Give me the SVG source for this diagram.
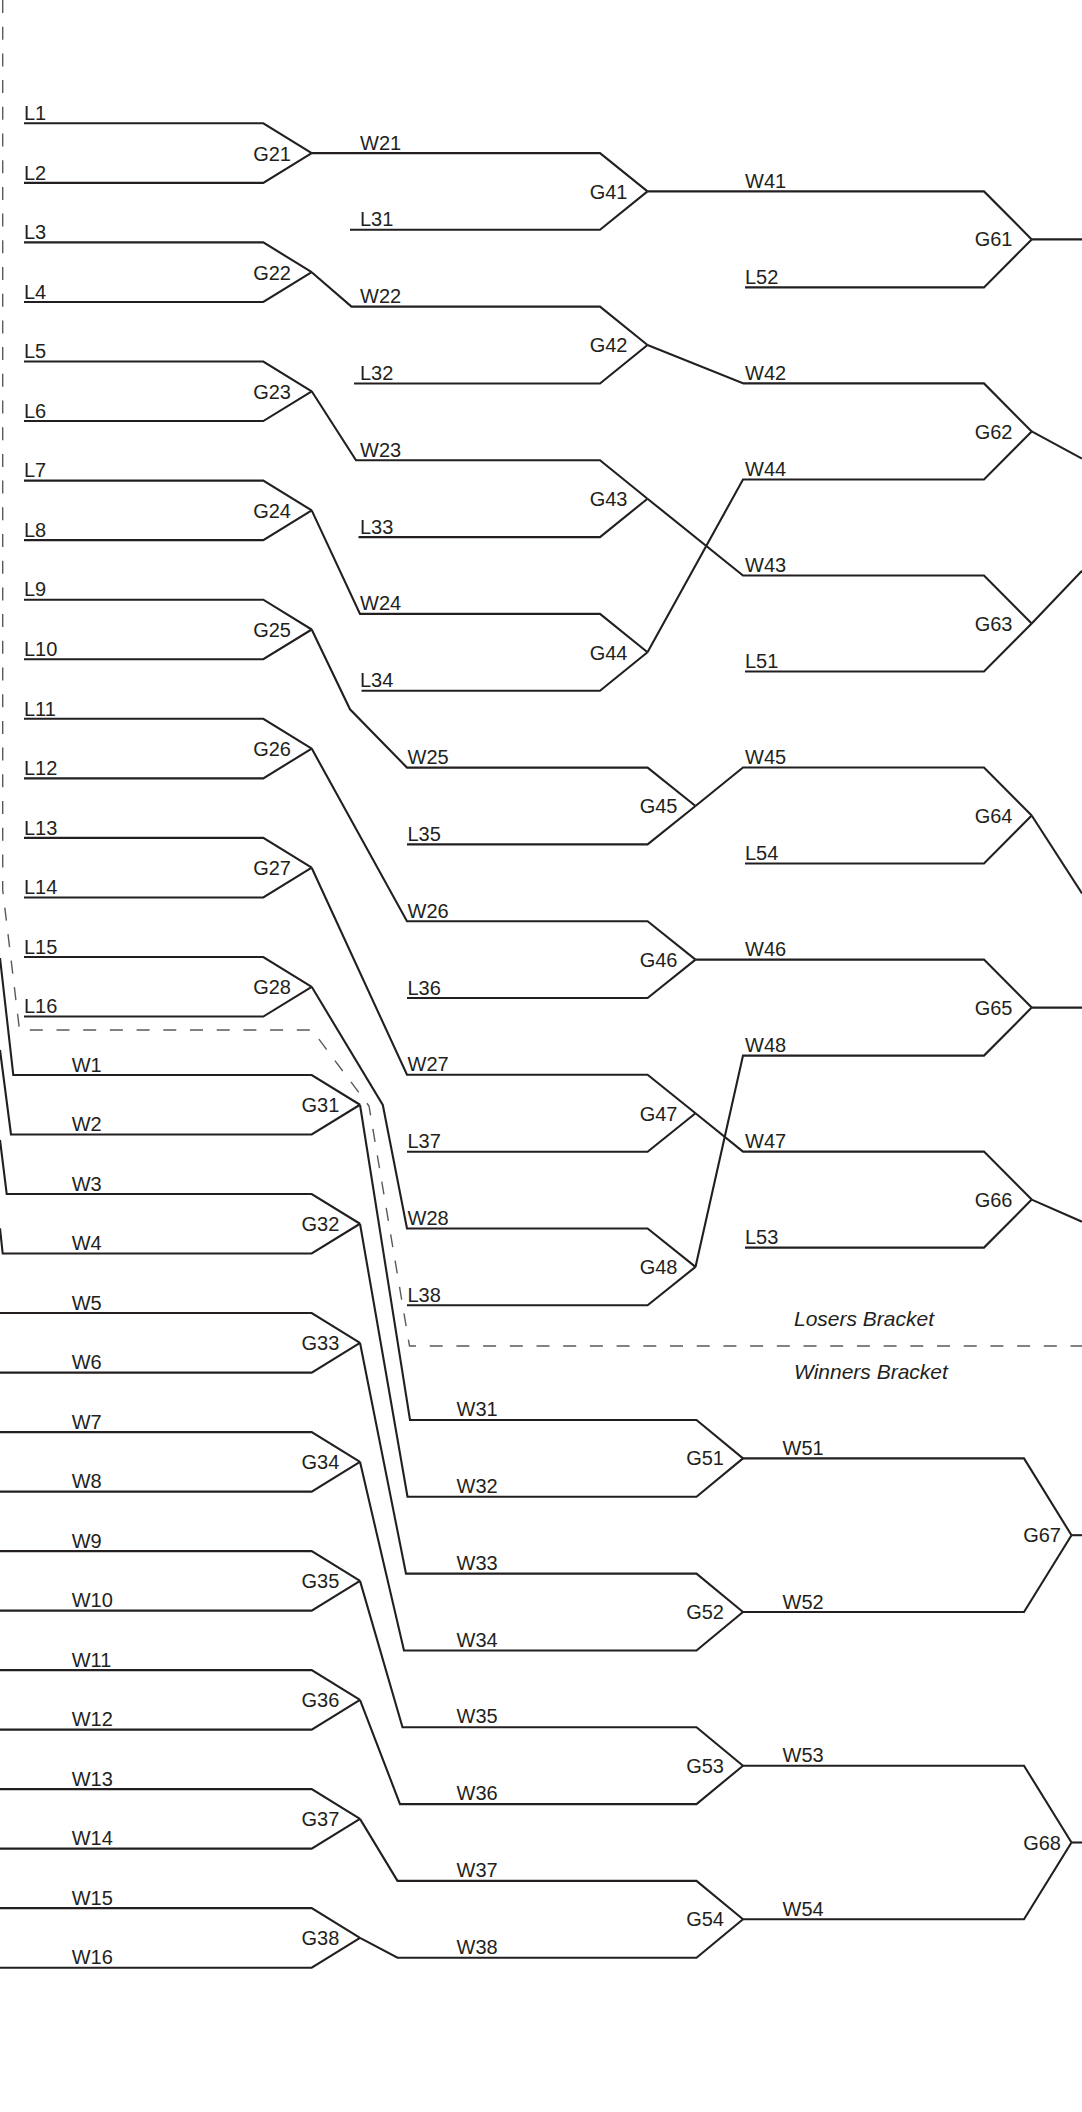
<svg xmlns="http://www.w3.org/2000/svg" width="1082" height="2112" viewBox="0 0 1082 2112">
<style>
.ln{fill:none;stroke:#231f20;stroke-width:2.1;stroke-linejoin:miter}
.dash{fill:none;stroke:#58595b;stroke-width:1.4;stroke-dasharray:13 13.7}
text{font-family:"Liberation Sans",Arial,sans-serif;font-size:20px;fill:#231f20}
.g{text-anchor:end}
.it{font-style:italic;font-size:21px}
</style>
<rect width="1082" height="2112" fill="#ffffff"/>
<path class="dash" d="M2.7 0 V890 L19.5 1030 H312 L369 1106 L409.5 1346 H1082"/>
<text class="it" x="794" y="1326">Losers Bracket</text>
<text class="it" x="794" y="1379.3">Winners Bracket</text>
<g id="connectors">
<path class="ln" d="M24 123.3 H263.3 L311.7 153.1"/>
<path class="ln" d="M24 182.85 H263.3 L311.7 153.1"/>
<path class="ln" d="M24 242.4 H263.3 L311.7 272.2"/>
<path class="ln" d="M24 301.95 H263.3 L311.7 272.2"/>
<path class="ln" d="M24 361.5 H263.3 L311.7 391.3"/>
<path class="ln" d="M24 421.05 H263.3 L311.7 391.3"/>
<path class="ln" d="M24 480.6 H263.3 L311.7 510.4"/>
<path class="ln" d="M24 540.15 H263.3 L311.7 510.4"/>
<path class="ln" d="M24 599.7 H263.3 L311.7 629.5"/>
<path class="ln" d="M24 659.25 H263.3 L311.7 629.5"/>
<path class="ln" d="M24 718.8 H263.3 L311.7 748.6"/>
<path class="ln" d="M24 778.35 H263.3 L311.7 748.6"/>
<path class="ln" d="M24 837.9 H263.3 L311.7 867.7"/>
<path class="ln" d="M24 897.45 H263.3 L311.7 867.7"/>
<path class="ln" d="M24 957 H263.3 L311.7 986.8"/>
<path class="ln" d="M24 1016.55 H263.3 L311.7 986.8"/>
<text x="24" y="120">L1</text>
<text x="24" y="179.5">L2</text>
<text x="24" y="239.1">L3</text>
<text x="24" y="298.6">L4</text>
<text x="24" y="358.2">L5</text>
<text x="24" y="417.7">L6</text>
<text x="24" y="477.3">L7</text>
<text x="24" y="536.8">L8</text>
<text x="24" y="596.4">L9</text>
<text x="24" y="655.9">L10</text>
<text x="24" y="715.5">L11</text>
<text x="24" y="775">L12</text>
<text x="24" y="834.6">L13</text>
<text x="24" y="894.1">L14</text>
<text x="24" y="953.7">L15</text>
<text x="24" y="1013.2">L16</text>
<path class="ln" d="M311.7 153.1 H600 L647.5 191.4"/>
<path class="ln" d="M350 229.8 H600 L647.5 191.4"/>
<path class="ln" d="M311.7 272.2 L351.5 306.6 H600 L647.5 345.05"/>
<path class="ln" d="M354 383.5 H600 L647.5 345.05"/>
<path class="ln" d="M311.7 391.3 L356 460.3 H600 L647.5 498.7"/>
<path class="ln" d="M358.5 537.1 H600 L647.5 498.7"/>
<path class="ln" d="M311.7 510.4 L360 613.9 H600 L647.5 652.3"/>
<path class="ln" d="M361.5 690.7 H600 L647.5 652.3"/>
<path class="ln" d="M311.7 629.5 L350 709.3 L407 767.6 H647.6 L695.5 806"/>
<path class="ln" d="M407 844.4 H647.6 L695.5 806"/>
<path class="ln" d="M311.7 748.6 L407 921.2 H647.6 L695.5 959.6"/>
<path class="ln" d="M407 998 H647.6 L695.5 959.6"/>
<path class="ln" d="M311.7 867.7 L407 1074.8 H647.6 L695.5 1113.25"/>
<path class="ln" d="M407 1151.7 H647.6 L695.5 1113.25"/>
<path class="ln" d="M311.7 986.8 L382.8 1105 L407 1228.5 H647.6 L695.5 1266.9"/>
<path class="ln" d="M407 1305.3 H647.6 L695.5 1266.9"/>
<text x="360" y="149.5">W21</text>
<text x="360" y="226.3">L31</text>
<text x="360" y="303.1">W22</text>
<text x="360" y="380">L32</text>
<text x="360" y="456.8">W23</text>
<text x="360" y="533.6">L33</text>
<text x="360" y="610.4">W24</text>
<text x="360" y="687.2">L34</text>
<text x="407.5" y="764.1">W25</text>
<text x="407.5" y="840.9">L35</text>
<text x="407.5" y="917.7">W26</text>
<text x="407.5" y="994.5">L36</text>
<text x="407.5" y="1071.3">W27</text>
<text x="407.5" y="1148.2">L37</text>
<text x="407.5" y="1225">W28</text>
<text x="407.5" y="1301.8">L38</text>
<path class="ln" d="M647.5 191.4 H984 L1031.7 239.4"/>
<path class="ln" d="M745 287.4 H984 L1031.7 239.4"/>
<path class="ln" d="M647.5 345.05 L743.5 383.4 H984 L1031.7 431.45"/>
<path class="ln" d="M647.5 652.3 L743 479.5 H984 L1031.7 431.45"/>
<path class="ln" d="M647.5 498.7 L743 575.5 H984 L1031.7 623.5"/>
<path class="ln" d="M745 671.5 H984 L1031.7 623.5"/>
<path class="ln" d="M695.5 806 L743 767.5 H984 L1031.7 815.5"/>
<path class="ln" d="M745 863.5 H984 L1031.7 815.5"/>
<path class="ln" d="M695.5 959.6 H984 L1031.7 1007.6"/>
<path class="ln" d="M695.5 1266.9 L743 1055.6 H984 L1031.7 1007.6"/>
<path class="ln" d="M695.5 1113.25 L743 1151.6 H984 L1031.7 1199.6"/>
<path class="ln" d="M745 1247.6 H984 L1031.7 1199.6"/>
<text x="745" y="188">W41</text>
<text x="745" y="284">L52</text>
<text x="745" y="380">W42</text>
<text x="745" y="476">W44</text>
<text x="745" y="572">W43</text>
<text x="745" y="668">L51</text>
<text x="745" y="764">W45</text>
<text x="745" y="860">L54</text>
<text x="745" y="956">W46</text>
<text x="745" y="1052">W48</text>
<text x="745" y="1148">W47</text>
<text x="745" y="1244">L53</text>
<path class="ln" d="M1031.7 239.4 H1082"/>
<path class="ln" d="M1031.7 431.45 L1082 458.6"/>
<path class="ln" d="M1031.7 623.5 L1082 570.8"/>
<path class="ln" d="M1031.7 815.5 L1082 893.5"/>
<path class="ln" d="M1031.7 1007.6 H1082"/>
<path class="ln" d="M1031.7 1199.6 L1082 1221.7"/>
<path class="ln" d="M0 958 L13.3 1075 H311.7 L360 1104.75"/>
<path class="ln" d="M0 1050 L11 1134.5 H311.7 L360 1104.75"/>
<path class="ln" d="M0 1140 L6.7 1194 H311.7 L360 1223.75"/>
<path class="ln" d="M0 1228.3 L2.7 1253.5 H311.7 L360 1223.75"/>
<path class="ln" d="M0 1313 H311.7 L360 1342.8"/>
<path class="ln" d="M0 1372.6 H311.7 L360 1342.8"/>
<path class="ln" d="M0 1432.1 H311.7 L360 1461.85"/>
<path class="ln" d="M0 1491.6 H311.7 L360 1461.85"/>
<path class="ln" d="M0 1551.1 H311.7 L360 1580.85"/>
<path class="ln" d="M0 1610.6 H311.7 L360 1580.85"/>
<path class="ln" d="M0 1670.1 H311.7 L360 1699.85"/>
<path class="ln" d="M0 1729.6 H311.7 L360 1699.85"/>
<path class="ln" d="M0 1789.1 H311.7 L360 1818.85"/>
<path class="ln" d="M0 1848.6 H311.7 L360 1818.85"/>
<path class="ln" d="M0 1908.1 H311.7 L360 1937.9"/>
<path class="ln" d="M0 1967.7 H311.7 L360 1937.9"/>
<text x="71.7" y="1071.7">W1</text>
<text x="71.7" y="1131.2">W2</text>
<text x="71.7" y="1190.7">W3</text>
<text x="71.7" y="1250.2">W4</text>
<text x="71.7" y="1309.7">W5</text>
<text x="71.7" y="1369.3">W6</text>
<text x="71.7" y="1428.8">W7</text>
<text x="71.7" y="1488.3">W8</text>
<text x="71.7" y="1547.8">W9</text>
<text x="71.7" y="1607.3">W10</text>
<text x="71.7" y="1666.8">W11</text>
<text x="71.7" y="1726.3">W12</text>
<text x="71.7" y="1785.8">W13</text>
<text x="71.7" y="1845.3">W14</text>
<text x="71.7" y="1904.8">W15</text>
<text x="71.7" y="1964.4">W16</text>
<path class="ln" d="M360 1104.75 L410 1420 H696.5 L743 1458.4"/>
<path class="ln" d="M360 1223.75 L407.5 1496.8 H696.5 L743 1458.4"/>
<path class="ln" d="M360 1342.8 L406 1573.6 H696.5 L743 1612"/>
<path class="ln" d="M360 1461.85 L404 1650.5 H696.5 L743 1612"/>
<path class="ln" d="M360 1580.85 L402.5 1727.3 H696.5 L743 1765.7"/>
<path class="ln" d="M360 1699.85 L400 1804.1 H696.5 L743 1765.7"/>
<path class="ln" d="M360 1818.85 L397.5 1880.9 H696.5 L743 1919.3"/>
<path class="ln" d="M360 1937.9 L397.5 1957.7 H696.5 L743 1919.3"/>
<text x="456.5" y="1416">W31</text>
<text x="456.5" y="1492.8">W32</text>
<text x="456.5" y="1569.6">W33</text>
<text x="456.5" y="1646.5">W34</text>
<text x="456.5" y="1723.3">W35</text>
<text x="456.5" y="1800.1">W36</text>
<text x="456.5" y="1876.9">W37</text>
<text x="456.5" y="1953.7">W38</text>
<path class="ln" d="M743 1458.4 H1024 L1071.5 1535.2"/>
<path class="ln" d="M743 1612 H1024 L1071.5 1535.2"/>
<path class="ln" d="M743 1765.7 H1024 L1071.5 1842.5"/>
<path class="ln" d="M743 1919.3 H1024 L1071.5 1842.5"/>
<path class="ln" d="M1071.5 1535.2 H1082"/>
<path class="ln" d="M1071.5 1842.5 H1082"/>
<text x="782.5" y="1454.9">W51</text>
<text x="782.5" y="1608.5">W52</text>
<text x="782.5" y="1762.2">W53</text>
<text x="782.5" y="1915.8">W54</text>
</g>
<g id="G21"><text class="g" x="291" y="160.6">G21</text></g>
<g id="G22"><text class="g" x="291" y="279.7">G22</text></g>
<g id="G23"><text class="g" x="291" y="398.8">G23</text></g>
<g id="G24"><text class="g" x="291" y="517.9">G24</text></g>
<g id="G25"><text class="g" x="291" y="637">G25</text></g>
<g id="G26"><text class="g" x="291" y="756.1">G26</text></g>
<g id="G27"><text class="g" x="291" y="875.2">G27</text></g>
<g id="G28"><text class="g" x="291" y="994.3">G28</text></g>
<g id="G41"><text class="g" x="627.5" y="198.7">G41</text></g>
<g id="G42"><text class="g" x="627.5" y="352.3">G42</text></g>
<g id="G43"><text class="g" x="627.5" y="506">G43</text></g>
<g id="G44"><text class="g" x="627.5" y="659.6">G44</text></g>
<g id="G45"><text class="g" x="677.5" y="813.3">G45</text></g>
<g id="G46"><text class="g" x="677.5" y="966.9">G46</text></g>
<g id="G47"><text class="g" x="677.5" y="1120.5">G47</text></g>
<g id="G48"><text class="g" x="677.5" y="1274.2">G48</text></g>
<g id="G61"><text class="g" x="1012.5" y="246.4">G61</text></g>
<g id="G62"><text class="g" x="1012.5" y="438.5">G62</text></g>
<g id="G63"><text class="g" x="1012.5" y="630.5">G63</text></g>
<g id="G64"><text class="g" x="1012.5" y="822.5">G64</text></g>
<g id="G65"><text class="g" x="1012.5" y="1014.6">G65</text></g>
<g id="G66"><text class="g" x="1012.5" y="1206.6">G66</text></g>
<g id="G31"><text class="g" x="339.3" y="1111.75">G31</text></g>
<g id="G32"><text class="g" x="339.3" y="1230.75">G32</text></g>
<g id="G33"><text class="g" x="339.3" y="1349.8">G33</text></g>
<g id="G34"><text class="g" x="339.3" y="1468.85">G34</text></g>
<g id="G35"><text class="g" x="339.3" y="1587.85">G35</text></g>
<g id="G36"><text class="g" x="339.3" y="1706.85">G36</text></g>
<g id="G37"><text class="g" x="339.3" y="1825.85">G37</text></g>
<g id="G38"><text class="g" x="339.3" y="1944.9">G38</text></g>
<g id="G51"><text class="g" x="724" y="1465.4">G51</text></g>
<g id="G52"><text class="g" x="724" y="1619">G52</text></g>
<g id="G53"><text class="g" x="724" y="1772.7">G53</text></g>
<g id="G54"><text class="g" x="724" y="1926.3">G54</text></g>
<g id="G67"><text class="g" x="1061" y="1542.2">G67</text></g>
<g id="G68"><text class="g" x="1061" y="1849.5">G68</text></g>
</svg>
